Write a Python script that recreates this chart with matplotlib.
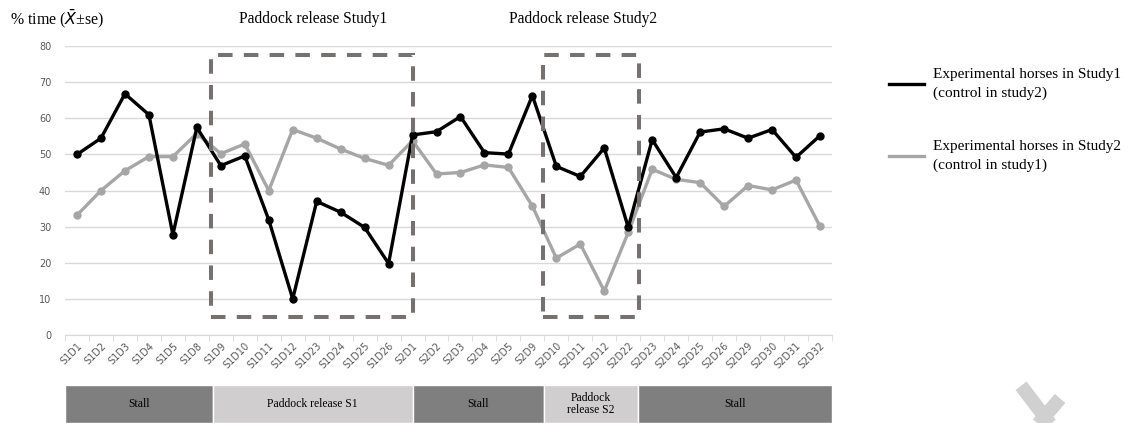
# -*- coding: utf-8 -*-
import numpy as np
from matplotlib import pyplot as plt
from matplotlib.patches import Rectangle
from matplotlib.lines import Line2D

days = ['S1D1', 'S1D2', 'S1D3', 'S1D4', 'S1D5', 'S1D8', 'S1D9', 'S1D10', 'S1D11', 'S1D12',
        'S1D23', 'S1D24', 'S1D25', 'S1D26', 'S2D1', 'S2D2', 'S2D3', 'S2D4', 'S2D5', 'S2D9',
        'S2D10', 'S2D11', 'S2D12', 'S2D22', 'S2D23', 'S2D24', 'S2D25', 'S2D26', 'S2D29',
        'S2D30', 'S2D31', 'S2D32']
exp_study1 = [50.0, 54.5, 66.8, 61.0, 27.8, 57.5, 46.9, 49.6, 31.9, 10.0,
              37.0, 34.0, 29.8, 19.8, 55.4, 56.3, 60.5, 50.5, 50.1, 66.3,
              46.7, 43.9, 51.8, 29.8, 54.1, 43.6, 56.2, 57.1, 54.5,
              56.9, 49.2, 55.2]
exp_study2 = [33.2, 40.0, 45.5, 49.4, 49.4, 55.8, 50.2, 52.9, 40.0, 56.9,
              54.5, 51.5, 48.9, 47.0, 53.8, 44.6, 45.0, 47.1, 46.4, 35.7,
              21.3, 25.2, 12.2, 28.4, 45.9, 43.1, 42.2, 35.6, 41.4,
              40.2, 42.9, 30.1]
phase_names = ['Stall', 'Paddock release S1', 'Stall', 'Paddock\nrelease S2', 'Stall']
phase_edges = [-0.5, 5.67, 14.0, 19.5, 23.4, 31.5]
phase_colors = ['#7f7f7f', '#d0cece', '#7f7f7f', '#d0cece', '#7f7f7f']

serif = 'Liberation Serif'
x = np.arange(len(days))

fig = plt.figure(figsize=(11.35, 4.23), dpi=100)
ax = fig.add_axes([0.0573, 0.208, 0.6757, 0.683])

ax.plot(x, exp_study1, color='black', lw=2.4, marker='o', ms=5, zorder=4)
ax.plot(x, exp_study2, color='#a6a6a6', lw=2.4, marker='o', ms=5, zorder=3)

# dashed boxes around paddock periods
for x0, x1 in [(5.6, 14.0), (19.46, 23.46)]:
    ax.add_patch(Rectangle((x0, 5), x1 - x0, 72.5, fill=False, ec='#767171',
                           lw=2.9, ls=(0, (3.6, 2.8)), zorder=5, clip_on=False))

ax.set_xlim(-0.5, len(days) - 0.5)
ax.set_ylim(0, 80)
ax.set_yticks(range(0, 81, 10))
ax.set_xticks(x)
ax.set_xticklabels(days, rotation=45, ha='right', rotation_mode='anchor',
                   fontsize=7, color='#595959')
ax.set_xticks(np.arange(-0.5, len(days)), minor=True)
ax.tick_params(axis='x', which='major', length=0, pad=4)
ax.tick_params(axis='x', which='minor', length=4, color='#d9d9d9')
ax.tick_params(axis='y', length=0, labelsize=7, labelcolor='#595959', pad=10)
ax.grid(axis='y', color='#d9d9d9', lw=1)
ax.set_axisbelow(True)
for s in ['top', 'right', 'left']:
    ax.spines[s].set_visible(False)
ax.spines['bottom'].set_color('#d9d9d9')

handles = [Line2D([], [], color='black', lw=2.4), Line2D([], [], color='#a6a6a6', lw=2.4)]
labels = ['Experimental horses in Study1\n(control in study2)',
          'Experimental horses in Study2\n(control in study1)']
leg = fig.legend(handles, labels, loc='upper left', bbox_to_anchor=(0.771, 0.872),
                 frameon=False, prop={'family': serif, 'size': 11}, handlelength=2.3,
                 labelspacing=2.6, handletextpad=0.6)
for t in leg.get_texts():
    t.set_linespacing(1.55)

fig.text(0.009, 0.955, '% time ($\\bar{X}$±se)', family=serif, fontsize=11.4, va='center')
fig.text(0.276, 0.955, 'Paddock release Study1', family=serif, fontsize=11.2,
         ha='center', va='center')
fig.text(0.514, 0.955, 'Paddock release Study2', family=serif, fontsize=11.2,
         ha='center', va='center')

# phase bar under the chart
bar = fig.add_axes([0.0573, 0.0, 0.6757, 0.09])
for name, a, b, c in zip(phase_names, phase_edges[:-1], phase_edges[1:], phase_colors):
    bar.add_patch(Rectangle((a, 0), b - a, 1, fc=c, ec='white', lw=1))
    bar.text((a + b) / 2, 0.5, name, family=serif, fontsize=8.4, ha='center',
             va='center', linespacing=1.1)
bar.set_xlim(ax.get_xlim())
bar.set_ylim(0, 1)
bar.axis('off')

# grey arrow fragment bottom right
fig.add_artist(Line2D([0.8996, 0.9295], [0.088, -0.017], color='#d0d0d0', lw=10,
                      solid_capstyle='butt', transform=fig.transFigure))
fig.add_artist(Line2D([0.934, 0.910], [0.058, -0.017], color='#d0d0d0', lw=10,
                      solid_capstyle='butt', transform=fig.transFigure))

fig.savefig('out.png', dpi=100)
